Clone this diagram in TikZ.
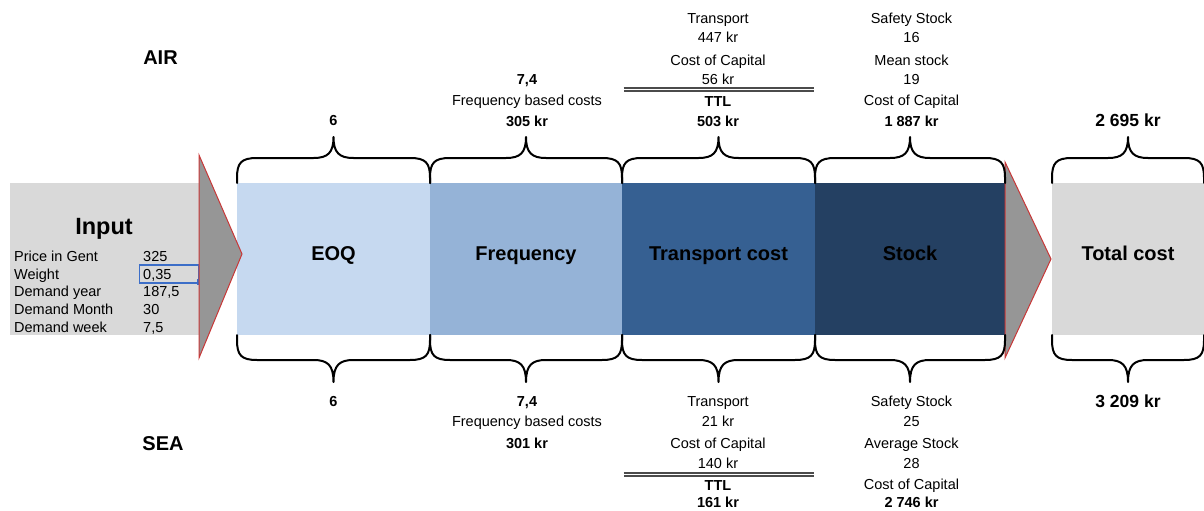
\documentclass[tikz,border=0pt]{standalone}
\usepackage{fontspec}
\setmainfont{Liberation Sans}
\usetikzlibrary{calc}

\definecolor{boxgrey}{RGB}{217,217,217}
\definecolor{eoqblue}{RGB}{198,217,240}
\definecolor{freqblue}{RGB}{149,179,215}
\definecolor{transblue}{RGB}{54,96,146}
\definecolor{stockblue}{RGB}{36,64,98}
\definecolor{arrowgrey}{RGB}{150,150,150}
\definecolor{arrowred}{RGB}{200,55,55}
\definecolor{selblue}{RGB}{60,110,200}
\definecolor{rulegrey}{RGB}{75,75,75}

% curly brace over / under a block, built from the block's corners
\newcommand\bracetop[1]{%
  \draw[bracestyle] let \p1=(#1.north west), \p2=(#1.north east),
      \p3=($(#1.north west)!0.5!(#1.north east)$) in
    (\x1,\y1) -- (\x1,\y1+5pt)
    .. controls (\x1,\y1+20pt) and (\x1+4pt,\y1+25pt) .. (\x1+20pt,\y1+25pt)
    -- (\x3-20pt,\y1+25pt)
    .. controls (\x3-6pt,\y1+25pt) and (\x3,\y1+30pt) .. (\x3,\y1+46pt)
    .. controls (\x3,\y1+30pt) and (\x3+6pt,\y1+25pt) .. (\x3+20pt,\y1+25pt)
    -- (\x2-20pt,\y1+25pt)
    .. controls (\x2-4pt,\y1+25pt) and (\x2,\y1+20pt) .. (\x2,\y1+5pt)
    -- (\x2,\y1);}
\newcommand\bracebot[1]{%
  \draw[bracestyle] let \p1=(#1.south west), \p2=(#1.south east),
      \p3=($(#1.south west)!0.5!(#1.south east)$) in
    (\x1,\y1) -- (\x1,\y1-5pt)
    .. controls (\x1,\y1-20pt) and (\x1+4pt,\y1-25pt) .. (\x1+20pt,\y1-25pt)
    -- (\x3-20pt,\y1-25pt)
    .. controls (\x3-6pt,\y1-25pt) and (\x3,\y1-30pt) .. (\x3,\y1-47pt)
    .. controls (\x3,\y1-30pt) and (\x3+6pt,\y1-25pt) .. (\x3+20pt,\y1-25pt)
    -- (\x2-20pt,\y1-25pt)
    .. controls (\x2-4pt,\y1-25pt) and (\x2,\y1-20pt) .. (\x2,\y1-5pt)
    -- (\x2,\y1);}

\begin{document}
\begin{tikzpicture}[x=1pt,y=-1pt,
  block/.style={minimum height=152pt, inner sep=0pt, outer sep=0pt, draw=none},
  bracestyle/.style={line width=2pt, black, line cap=round, line join=round},
  arrowtri/.style={fill=arrowgrey, draw=arrowred, line width=1pt, line join=miter},
  txt/.style={inner sep=0pt, text height=0.72em, text depth=0pt},
  small/.style={txt, yshift=-2pt, font=\fontsize{14.5}{17}\selectfont},
  smallb/.style={txt, yshift=-2pt, font=\fontsize{14.5}{17}\selectfont\bfseries},
  total/.style={txt, yshift=-2.5pt, font=\fontsize{17.5}{20}\selectfont\bfseries},
  blocktext/.style={txt, yshift=-3.5pt, font=\fontsize{20}{24}\selectfont\bfseries},
  side/.style={txt, yshift=-3.5pt, font=\fontsize{20}{24}\selectfont\bfseries},
  inrow/.style={txt, yshift=-2pt, anchor=west, font=\fontsize{14.5}{17}\selectfont},
  ttlrule/.style={rulegrey, line width=1.4pt, double, double distance=1.4pt}
]
\useasboundingbox (0,0) rectangle (1204,511);

% ---- blocks ----
\node[block, fill=boxgrey, minimum width=189pt] (input) at (104.5,259) {};
\node[block, fill=eoqblue, minimum width=193pt] (eoq) at (333.5,259) {};
\node[block, fill=freqblue, minimum width=192pt] (freq) at (526,259) {};
\node[block, fill=transblue, minimum width=193pt] (trans) at (718.5,259) {};
\node[block, fill=stockblue, minimum width=190pt] (stock) at (910,259) {};
\node[block, fill=boxgrey, minimum width=152pt] (total) at (1128,259) {};

% ---- block titles ----
\node[blocktext] (eoqt) at (333.5,253) {EOQ};
\node[blocktext] (freqt) at (526,253) {Frequency};
\node[blocktext] (transt) at (718.5,253) {Transport cost};
\node[blocktext] (stockt) at (910,253) {Stock};
\node[blocktext] (totalt) at (1128,253) {Total cost};

% ---- input panel ----
\node[txt, yshift=-4pt, font=\fontsize{23.5}{28}\selectfont\bfseries] (inputt) at (104,227) {Input};
\node[inrow] (r1) at (14,256) {Price in Gent};
\node[inrow] (r2) at (14,273.5) {Weight};
\node[inrow] (r3) at (14,291) {Demand year};
\node[inrow] (r4) at (14,309) {Demand Month};
\node[inrow] (r5) at (14,327) {Demand week};
\node[inrow] (v1) at (143,256) {325};
\node[inrow] (v2) at (143,273.5) {0,35};
\node[inrow] (v3) at (143,291) {187,5};
\node[inrow] (v4) at (143,309) {30};
\node[inrow] (v5) at (143,327) {7,5};
\draw[selblue, line width=1.3pt] (139.5,265) rectangle (199,283);
\fill[selblue] (196.5,279) rectangle (200,285);

% ---- arrows between stages ----
\draw[arrowtri] (199,155) -- (242,254) -- (199,358) -- cycle;
\draw[arrowtri] (1005,162) -- (1051,259) -- (1005,358) -- cycle;

% ---- braces ----
\bracetop{eoq}\bracetop{freq}\bracetop{trans}\bracetop{stock}\bracetop{total}
\bracebot{eoq}\bracebot{freq}\bracebot{trans}\bracebot{stock}\bracebot{total}

% ---- mode labels ----
\node[side] (air) at (160.5,57) {AIR};
\node[side] (sea) at (163,443) {SEA};

% ---- AIR figures ----
\node[smallb] (aeoq) at (333.5,120) {6};
\node[smallb] (afreq1) at (527,79) {7,4};
\node[small] (afreq2) at (527,100) {Frequency based costs};
\node[smallb] (afreq3) at (527,121) {305 kr};
\node[small] (atr1) at (718,18) {Transport};
\node[small] (atr2) at (718,37) {447 kr};
\node[small] (atr3) at (718,60) {Cost of Capital};
\node[small] (atr4) at (718,79) {56 kr};
\draw[ttlrule] (623.5,89.5) -- (814,89.5);
\node[smallb] (atr5) at (718,100.5) {TTL};
\node[smallb] (atr6) at (718,120.5) {503 kr};
\node[small] (ast1) at (911.5,18) {Safety Stock};
\node[small] (ast2) at (911.5,37) {16};
\node[small] (ast3) at (911.5,60) {Mean stock};
\node[small] (ast4) at (911.5,79) {19};
\node[small] (ast5) at (911.5,100) {Cost of Capital};
\node[smallb] (ast6) at (911.5,120.5) {1 887 kr};
\node[total] (atot) at (1128,120) {2 695 kr};

% ---- SEA figures ----
\node[smallb] (seoq) at (333.5,401) {6};
\node[smallb] (sfreq1) at (527,401) {7,4};
\node[small] (sfreq2) at (527,421) {Frequency based costs};
\node[smallb] (sfreq3) at (527,443) {301 kr};
\node[small] (str1) at (718,401) {Transport};
\node[small] (str2) at (718,421) {21 kr};
\node[small] (str3) at (718,443) {Cost of Capital};
\node[small] (str4) at (718,462.5) {140 kr};
\draw[ttlrule] (623.5,474.5) -- (814,474.5);
\node[smallb] (str5) at (718,485) {TTL};
\node[smallb] (str6) at (718,502) {161 kr};
\node[small] (sst1) at (911.5,401) {Safety Stock};
\node[small] (sst2) at (911.5,421) {25};
\node[small] (sst3) at (911.5,443) {Average Stock};
\node[small] (sst4) at (911.5,463) {28};
\node[small] (sst5) at (911.5,484) {Cost of Capital};
\node[smallb] (sst6) at (911.5,502) {2 746 kr};
\node[total] (stot) at (1128,401) {3 209 kr};
\end{tikzpicture}
\end{document}
